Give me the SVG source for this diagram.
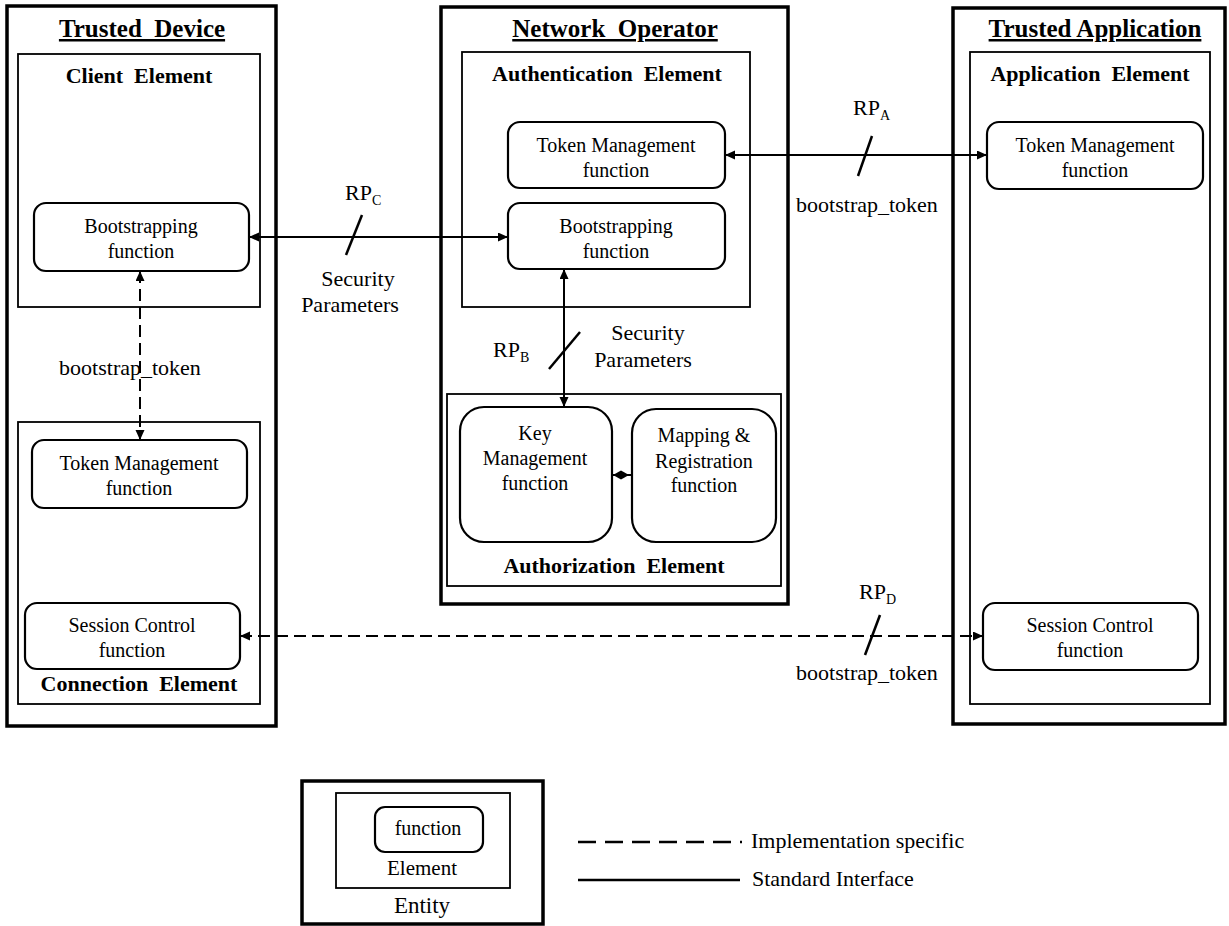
<svg xmlns="http://www.w3.org/2000/svg" width="1229" height="926" viewBox="0 0 1229 926" font-family="'Liberation Serif', 'Times New Roman', serif">
<style>
text{font-family:"Liberation Serif","Times New Roman",serif;fill:#000;white-space:pre}
.entity{fill:#fff;stroke:#000;stroke-width:3.5}
.element{fill:none;stroke:#000;stroke-width:1.8}
.func{fill:#fff;stroke:#000;stroke-width:2.2}
.title{font-size:25px;font-weight:bold;text-anchor:middle;text-decoration:underline}
.elabel{font-size:22px;font-weight:bold;text-anchor:middle}
.ftext{font-size:20px;text-anchor:middle}
.label{font-size:22px}
.mid{text-anchor:middle}
.sub{font-size:14px}
.conn{stroke:#000;stroke-width:2;fill:none}
.dash{stroke-dasharray:12 6}
.slash{stroke:#000;stroke-width:2.5}
</style>
<defs>
<marker id="arr" markerUnits="userSpaceOnUse" markerWidth="11" markerHeight="10" refX="10" refY="4.5" orient="auto-start-reverse" viewBox="0 0 11 10">
<path d="M0,0 L10,4.5 L0,9 z" fill="#000"/>
</marker>
</defs>

<g id="trusted-device">
<rect class="entity" x="7" y="6" width="269" height="720"/>
<text class="title" x="142" y="37">Trusted  Device</text>
</g>
<g id="client-element">
<rect class="element" x="18" y="54" width="242" height="253"/>
<text class="elabel" x="139" y="83">Client  Element</text>
</g>
<g id="bootstrapping-client">
<rect class="func" x="34" y="203" width="215" height="68" rx="12"/>
<text class="ftext" x="141" y="233">Bootstrapping</text>
<text class="ftext" x="141" y="258">function</text>
</g>
<g id="connection-element">
<rect class="element" x="18" y="422" width="242" height="282"/>
<text class="elabel" x="139" y="691">Connection  Element</text>
</g>
<g id="token-mgmt-client">
<rect class="func" x="32" y="440" width="215" height="68" rx="12"/>
<text class="ftext" x="139" y="470">Token Management</text>
<text class="ftext" x="139" y="495">function</text>
</g>
<g id="session-control-client">
<rect class="func" x="25" y="603" width="215" height="66" rx="12"/>
<text class="ftext" x="132" y="632">Session Control</text>
<text class="ftext" x="132" y="657">function</text>
</g>

<g id="network-operator">
<rect class="entity" x="441" y="7" width="347" height="597"/>
<text class="title" x="615" y="37">Network  Operator</text>
</g>
<g id="authentication-element">
<rect class="element" x="462" y="52" width="288" height="255"/>
<text class="elabel" x="607" y="81">Authentication  Element</text>
</g>
<g id="token-mgmt-operator">
<rect class="func" x="508" y="122" width="217" height="66" rx="12"/>
<text class="ftext" x="616" y="152">Token Management</text>
<text class="ftext" x="616" y="177">function</text>
</g>
<g id="bootstrapping-operator">
<rect class="func" x="508" y="203" width="217" height="66" rx="12"/>
<text class="ftext" x="616" y="233">Bootstrapping</text>
<text class="ftext" x="616" y="258">function</text>
</g>
<g id="authorization-element">
<rect class="element" x="447" y="394" width="334" height="192"/>
<text class="elabel" x="614" y="573">Authorization  Element</text>
</g>
<g id="key-management">
<rect class="func" x="460" y="407" width="152" height="135" rx="24"/>
<text class="ftext" x="535" y="440">Key</text>
<text class="ftext" x="535" y="465">Management</text>
<text class="ftext" x="535" y="490">function</text>
</g>
<g id="mapping-registration">
<rect class="func" x="632" y="409" width="144" height="133" rx="24"/>
<text class="ftext" x="704" y="442">Mapping &amp;</text>
<text class="ftext" x="704" y="468">Registration</text>
<text class="ftext" x="704" y="492">function</text>
</g>

<g id="trusted-application">
<rect class="entity" x="953" y="8" width="272" height="716"/>
<text class="title" x="1095" y="37">Trusted Application</text>
</g>
<g id="application-element">
<rect class="element" x="970" y="52" width="240" height="652"/>
<text class="elabel" x="1090" y="81">Application  Element</text>
</g>
<g id="token-mgmt-app">
<rect class="func" x="987" y="122" width="216" height="67" rx="12"/>
<text class="ftext" x="1095" y="152">Token Management</text>
<text class="ftext" x="1095" y="177">function</text>
</g>
<g id="session-control-app">
<rect class="func" x="983" y="603" width="215" height="67" rx="12"/>
<text class="ftext" x="1090" y="632">Session Control</text>
<text class="ftext" x="1090" y="657">function</text>
</g>

<g id="connectors">
<line class="conn" x1="249" y1="237" x2="508" y2="237" marker-start="url(#arr)" marker-end="url(#arr)"/>
<line class="slash" x1="362" y1="215" x2="346" y2="255"/>
<line class="conn" x1="725" y1="155" x2="987" y2="155" marker-start="url(#arr)" marker-end="url(#arr)"/>
<line class="slash" x1="872" y1="136" x2="858" y2="176"/>
<line class="conn" x1="564" y1="269" x2="564" y2="407" marker-start="url(#arr)" marker-end="url(#arr)"/>
<line class="slash" x1="580" y1="332" x2="549" y2="369"/>
<line class="conn dash" x1="140" y1="271" x2="140" y2="440" marker-start="url(#arr)" marker-end="url(#arr)"/>
<line class="conn dash" x1="240" y1="636" x2="983" y2="636" marker-start="url(#arr)" marker-end="url(#arr)"/>
<line class="slash" x1="880" y1="615" x2="865" y2="655"/>
<line class="conn" x1="612" y1="475" x2="632" y2="475"/>
<path d="M613,475 L621,470.5 L629,475 L621,479.5 z" fill="#000"/>
</g>

<g id="labels">
<text class="label" x="345" y="200">RP<tspan class="sub" dy="5">C</tspan></text>
<text class="label mid" x="358" y="286">Security</text>
<text class="label mid" x="350" y="312">Parameters</text>
<text class="label" x="853" y="115">RP<tspan class="sub" dy="5">A</tspan></text>
<text class="label mid" x="867" y="212">bootstrap_token</text>
<text class="label" x="493" y="357">RP<tspan class="sub" dy="5">B</tspan></text>
<text class="label mid" x="648" y="340">Security</text>
<text class="label mid" x="643" y="367">Parameters</text>
<text class="label mid" x="130" y="375">bootstrap_token</text>
<text class="label" x="859" y="599">RP<tspan class="sub" dy="5">D</tspan></text>
<text class="label mid" x="867" y="680">bootstrap_token</text>
</g>

<g id="legend">
<rect class="entity" x="302" y="781" width="241" height="143"/>
<rect class="element" x="336" y="793" width="174" height="95"/>
<rect class="func" x="375" y="807" width="108" height="45" rx="10"/>
<text class="ftext" x="428" y="835">function</text>
<text class="ftext" x="422" y="875" style="font-size:21px">Element</text>
<text class="ftext" x="422" y="913" style="font-size:23px">Entity</text>
<line class="conn dash" x1="578" y1="842" x2="742" y2="842" style="stroke-width:2.5;stroke-dasharray:18 9"/>
<text class="label" x="751" y="848">Implementation specific</text>
<line class="conn" x1="578" y1="880" x2="740" y2="880" style="stroke-width:2.5"/>
<text class="label" x="752" y="886">Standard Interface</text>
</g>
</svg>
